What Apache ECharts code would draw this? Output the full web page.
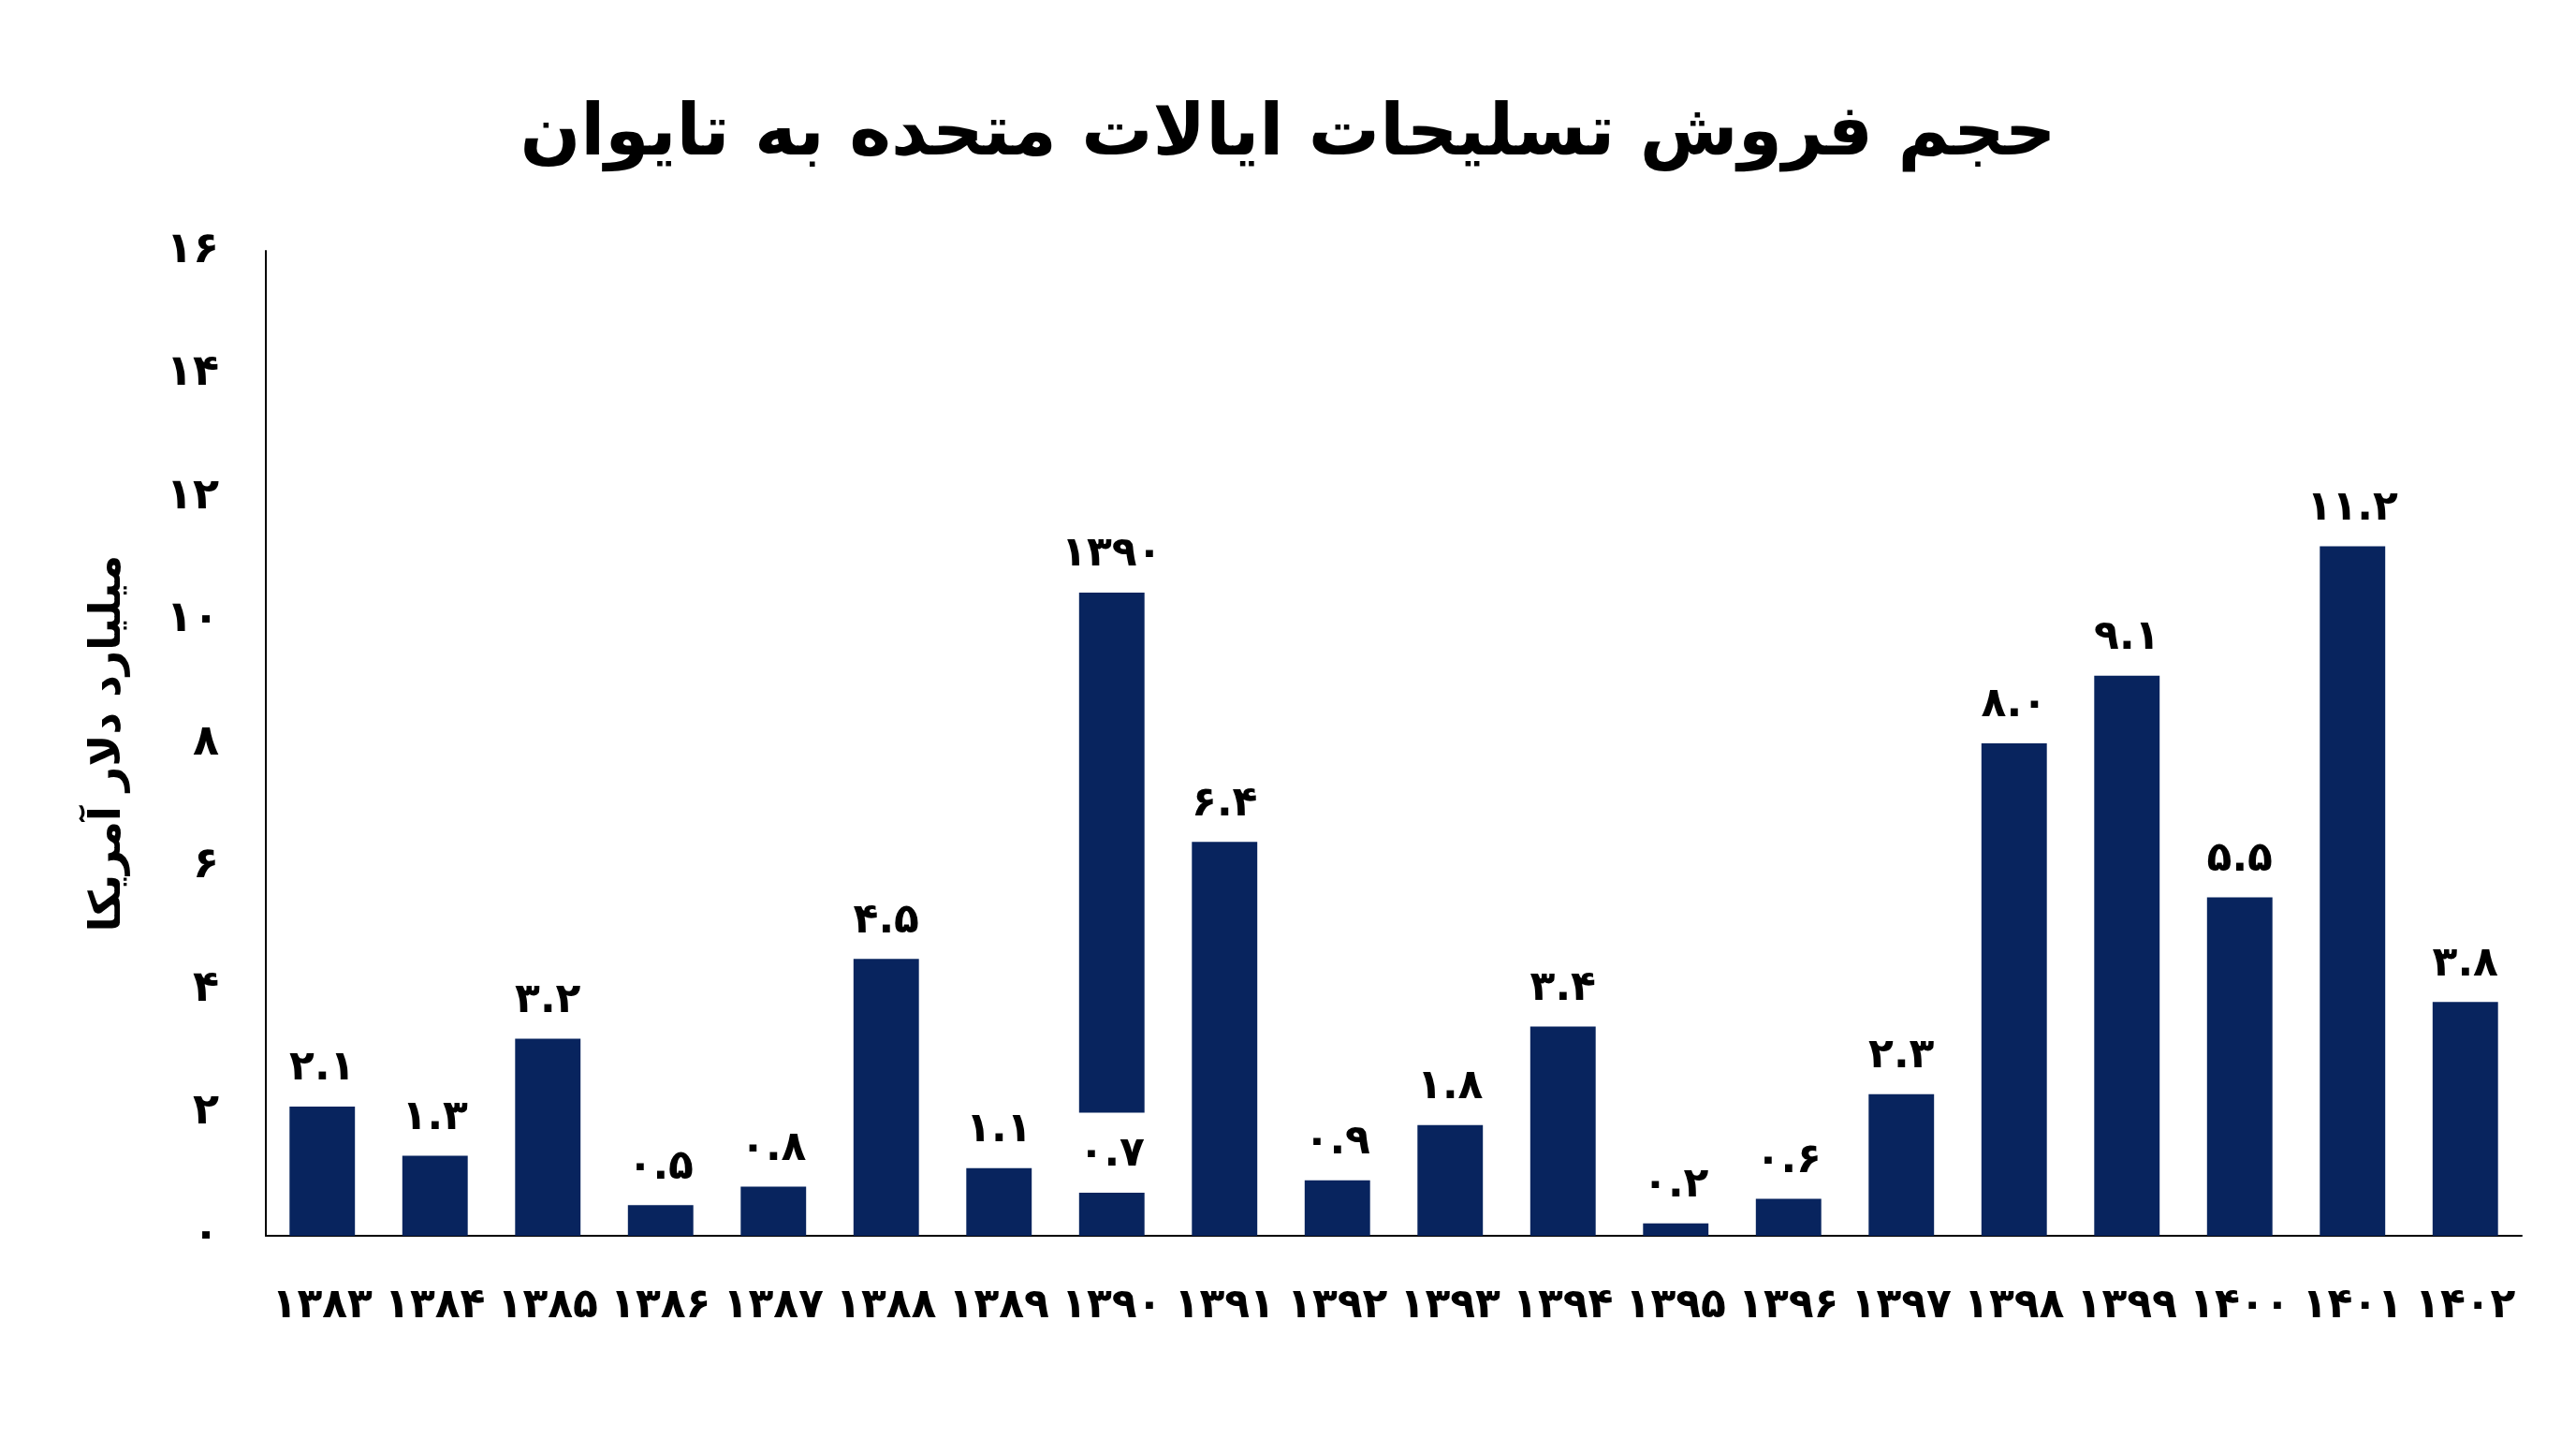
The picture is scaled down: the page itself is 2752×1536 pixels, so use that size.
<!DOCTYPE html>
<html>
<head>
<meta charset="utf-8">
<script src="https://cdn.jsdelivr.net/npm/echarts@6/dist/echarts.min.js"></script>
<style>
  html, body { margin: 0; padding: 0; background: #ffffff; }
  #main { width: 2752px; height: 1536px; }
</style>
</head>
<body>
<div id="main"></div>
<script>
    var years = [1383, 1384, 1385, 1386, 1387, 1388, 1389, 1390, 1391, 1392,
                 1393, 1394, 1395, 1396, 1397, 1398, 1399, 1400, 1401, 1402];
    var sales = [2.1, 1.3, 3.2, 0.5, 0.8, 4.5, 1.1, 0.7, 6.4, 0.9,
                 1.8, 3.4, 0.2, 0.6, 2.3, 8.0, 9.1, 5.5, 11.2, 3.8];
    // the odd floating bar drawn over 1390 in the original
    var floatYear = 1390;
    var floatFrom = 2.0;
    var floatTo = 10.45;
    var yTicks = [0, 2, 4, 6, 8, 10, 12, 14, 16];

    var navy = '#08245e';
    var font = "'DejaVu Sans', 'Noto Sans', sans-serif";

    function fa(v) {
        return String(v).replace(/[0-9]/g, function (d) { return '۰۱۲۳۴۵۶۷۸۹'[d]; });
    }

    var gapData = years.map(function (y) { return y === floatYear ? floatFrom : '-'; });
    var floatData = years.map(function (y) { return y === floatYear ? +(floatTo - floatFrom).toFixed(2) : '-'; });

    var myChart = echarts.init(document.getElementById('main'));

    var option = {
        backgroundColor: '#ffffff',
        animation: false,
        title: {
            text: 'حجم فروش تسلیحات ایالات متحده به تایوان',
            left: 'center',
            top: 102,
            textStyle: { fontFamily: font, fontSize: 76, fontWeight: 'bold', color: '#000' }
        },
        grid: { left: 284, right: 58, top: 268, bottom: 216 },
        xAxis: {
            type: 'category',
            data: years,
            axisLine: { show: true, lineStyle: { color: '#000', width: 2 } },
            axisTick: { show: false },
            axisLabel: {
                interval: 0,
                margin: 54,
                formatter: function (v) { return fa(v); },
                fontFamily: font, fontSize: 44, fontWeight: 'bold', color: '#000'
            }
        },
        yAxis: {
            type: 'value',
            min: yTicks[0],
            max: yTicks[yTicks.length - 1],
            interval: 2,
            name: 'میلیارد دلار آمریکا',
            nameLocation: 'middle',
            nameGap: 145,
            nameTextStyle: { fontFamily: font, fontSize: 46, fontWeight: 'bold', color: '#000' },
            axisLine: { show: true, lineStyle: { color: '#000', width: 2 } },
            axisTick: { show: false },
            splitLine: { show: false },
            axisLabel: {
                margin: 50,
                formatter: function (v) { return fa(v); },
                fontFamily: font, fontSize: 46, fontWeight: 'bold', color: '#000'
            }
        },
        series: [
            {
                name: 'sales',
                type: 'bar',
                data: sales,
                barWidth: '58%',
                itemStyle: { color: navy },
                label: {
                    show: true,
                    position: 'top',
                    distance: 18,
                    formatter: function (p) { return fa(p.value.toFixed(1)); },
                    fontFamily: font, fontSize: 44, fontWeight: 'bold', color: '#000'
                }
            },
            {
                name: 'gap',
                type: 'bar',
                stack: 'float',
                barGap: '-100%',
                barWidth: '58%',
                data: gapData,
                itemStyle: { color: 'rgba(0,0,0,0)' }
            },
            {
                name: 'float',
                type: 'bar',
                stack: 'float',
                barWidth: '58%',
                data: floatData,
                itemStyle: { color: navy },
                label: {
                    show: true,
                    position: 'top',
                    distance: 18,
                    formatter: function () { return fa(floatYear); },
                    fontFamily: font, fontSize: 44, fontWeight: 'bold', color: '#000'
                }
            }
        ]
    };

    myChart.setOption(option);
</script>
</body>
</html>
